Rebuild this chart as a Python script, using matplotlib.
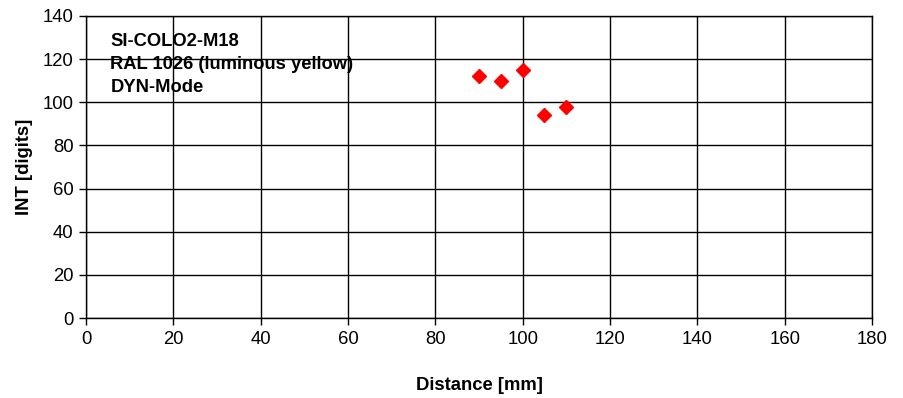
import matplotlib
matplotlib.use("Agg")
import matplotlib.pyplot as plt

plt.rcParams['font.family'] = ['Liberation Sans', 'DejaVu Sans']

distance_mm = [90, 95, 100, 105, 110]
int_digits = [112, 110, 115, 94, 98]
x_ticks = list(range(0, 181, 20))
y_ticks = list(range(0, 141, 20))
info_lines = ["SI-COLO2-M18", "RAL 1026 (luminous yellow)", "DYN-Mode"]

fig = plt.figure(figsize=(9.04, 3.98), dpi=100)
ax = fig.add_axes([0.0951, 0.201, 0.8695, 0.7588])

ax.plot(distance_mm, int_digits, linestyle='none', marker='D', markersize=7,
        color='#ff0000', markeredgecolor='#ff0000', zorder=4)

ax.set_xlim(0, 180)
ax.set_ylim(0, 140)
ax.set_xticks(x_ticks)
ax.set_yticks(y_ticks)
ax.tick_params(axis='both', direction='out', length=5, width=1, color='black',
               labelsize=13.3, pad=4)
ax.set_axisbelow(False)
ax.grid(True, color='black', linewidth=1)
for s in ax.spines.values():
    s.set_color('black')
    s.set_linewidth(1)

ax.set_xlabel('Distance [mm]', fontsize=13.3, fontweight='bold', labelpad=21)
ax.set_ylabel('INT [digits]', fontsize=13.3, fontweight='bold', labelpad=7)

ax.text(0.031, 0.944, "\n".join(info_lines), transform=ax.transAxes,
        ha='left', va='top', fontsize=13.2, fontweight='bold',
        linespacing=1.45, zorder=1)

fig.savefig('out.png', dpi=100, facecolor='white')
